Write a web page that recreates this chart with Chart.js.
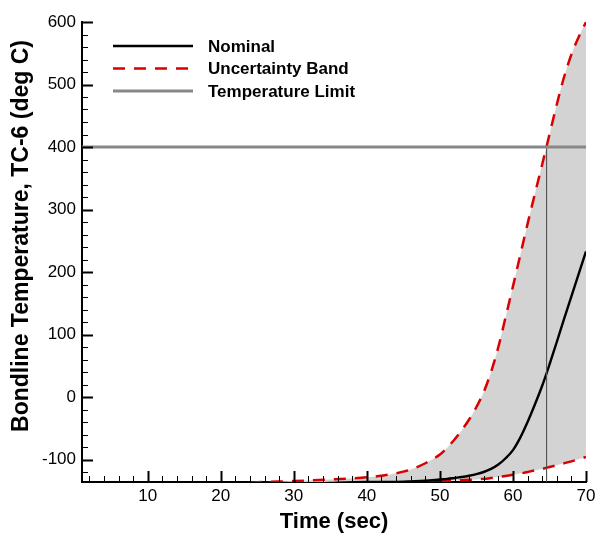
<!DOCTYPE html>
<html><head><meta charset="utf-8">
<script src="https://cdn.jsdelivr.net/npm/chart.js@4/dist/chart.umd.min.js"></script>
<style>html,body{margin:0;padding:0;background:#fff}#wrap{width:596px;height:538px}</style>
</head><body><div id="wrap"><canvas id="c" width="596" height="538"></canvas></div>
<script>
// ---- data ----
const timeSec   = [1, 5, 10, 15, 20, 25, 30, 35, 40, 42, 44, 46, 48, 50, 51, 52, 53, 54, 55, 56, 57, 58, 59, 60, 61, 62, 63, 64, 65, 66, 67, 68, 69, 70];
const nominal   = [-140,-140,-140,-140,-140,-140,-140,-137.5,-136,-136,-135.8,-135,-134,-132,-131,-129.5,-128,-126,-123.5,-120,-115,-108,-98,-85,-65,-40,-12,18,52,88,125,161,197,233];
const upperBand = [-140,-140,-140,-140,-140,-136.5,-134.5,-132,-128.5,-126,-122,-116,-106,-92,-81,-68,-53,-36,-16,8,40,80,128,177,227,277,325,372,420,468,512,548,576,600];
const lowerBand = [-140,-140,-140,-140,-140,-140,-140,-140,-140,-138,-137,-136,-135,-134.5,-134,-133.5,-133,-132.5,-131.8,-131,-129.6,-128,-126.3,-124.5,-122.5,-120,-117.5,-115,-112,-109,-106,-103,-99.5,-96];
const limitTime = [1, 70];
const limitTemp = [400, 400];
const crossTime = [64.6, 64.6];
const crossTemp = [400, -136];
const xTickVals = [10, 20, 30, 40, 50, 60, 70];
const yTickVals = [-100, 0, 100, 200, 300, 400, 500, 600];
const xRange = [1, 70];
const yRange = [-136, 600];
const xTitle = 'Time (sec)';
const yTitle = 'Bondline Temperature, TC-6 (deg C)';

const pts = (xs, ys) => xs.map((x, i) => ({x, y: ys[i]}));
const RED = '#d80000';
const FONT = '"Liberation Sans", Arial, sans-serif';

const insideTicks = {
  id: 'insideTicks',
  afterDatasetsDraw(chart) {
    const {ctx, chartArea: a, scales: {x, y}} = chart;
    ctx.save();
    ctx.strokeStyle = '#000';
    const seg = (x1, y1, x2, y2, w) => { ctx.lineWidth = w; ctx.beginPath(); ctx.moveTo(x1, y1); ctx.lineTo(x2, y2); ctx.stroke(); };
    for (let v = 2; v <= 70; v += 2) {
      const px = Math.round(x.getPixelForValue(v)) + 0.5;
      const major = v % 10 === 0;
      seg(px, a.bottom, px, a.bottom - (major ? 11 : 6), major ? 2 : 1);
    }
    for (let v = -120; v <= 600; v += 20) {
      const py = Math.round(y.getPixelForValue(v)) + 0.5;
      const major = v % 100 === 0;
      seg(a.left, py, a.left + (major ? 11 : 6), py, major ? 2 : 1);
    }
    ctx.restore();
  }
};

const yTitlePlugin = {
  id: 'yTitlePlugin',
  afterDraw(chart) {
    const {ctx} = chart;
    ctx.save();
    ctx.font = 'bold 23px ' + FONT;
    ctx.fillStyle = '#000';
    ctx.textAlign = 'center';
    ctx.textBaseline = 'middle';
    ctx.translate(22, 236);
    ctx.rotate(-Math.PI / 2);
    ctx.fillText(yTitle, 0, 0);
    ctx.restore();
  }
};

const boxLegend = {
  id: 'boxLegend',
  afterDraw(chart) {
    const {ctx} = chart;
    const items = chart.data.datasets.filter(d => d.inLegend).sort((a, b) => a.legendRank - b.legendRank);
    ctx.save();
    ctx.font = 'bold 17px ' + FONT;
    ctx.textBaseline = 'middle';
    ctx.fillStyle = '#000';
    items.forEach((d, i) => {
      const yy = 46 + i * 22.5;
      ctx.strokeStyle = d.borderColor;
      ctx.lineWidth = d.borderWidth;
      ctx.setLineDash(d.borderDash || []);
      ctx.beginPath(); ctx.moveTo(113, yy); ctx.lineTo(193, yy); ctx.stroke();
      ctx.setLineDash([]);
      ctx.fillText(d.label, 208, yy + 1);
    });
    ctx.restore();
  }
};

new Chart(document.getElementById('c'), {
  type: 'line',
  data: {
    datasets: [
      {label: 'Temperature Limit', inLegend: true, legendRank: 2, data: pts(limitTime, limitTemp), borderColor: '#888888', borderWidth: 3, pointRadius: 0, fill: false},
      {label: 'cross', data: pts(crossTime, crossTemp), borderColor: '#555', borderWidth: 1, pointRadius: 0, fill: false},
      {label: 'Nominal', inLegend: true, legendRank: 0, data: pts(timeSec, nominal), borderColor: '#000', borderWidth: 2.4, pointRadius: 0, cubicInterpolationMode: 'monotone', fill: false},
      {label: 'Uncertainty Band', inLegend: true, legendRank: 1, data: pts(timeSec, upperBand), borderColor: RED, borderWidth: 2.5, borderDash: [12, 9], pointRadius: 0, cubicInterpolationMode: 'monotone', fill: {target: 4}, backgroundColor: '#d3d3d3'},
      {label: 'lower', data: pts(timeSec, lowerBand), borderColor: RED, borderWidth: 2.5, borderDash: [12, 9], pointRadius: 0, cubicInterpolationMode: 'monotone', fill: false}
    ]
  },
  options: {
    responsive: false,
    animation: false,
    devicePixelRatio: 1,
    layout: {padding: {left: 0, right: 10, top: 22, bottom: 0}},
    plugins: {legend: {display: false}, tooltip: {enabled: false}, filler: {drawTime: 'beforeDatasetsDraw'}},
    scales: {
      x: {
        type: 'linear', min: xRange[0], max: xRange[1],
        afterBuildTicks: s => { s.ticks = xTickVals.map(v => ({value: v})); },
        afterFit: s => { s.height = 56; s.paddingRight = 0; s.paddingLeft = 0; },
        grid: {display: false, drawTicks: false},
        border: {display: true, color: '#000', width: 2},
        ticks: {color: '#000', padding: 4, font: {family: FONT, size: 17}, maxRotation: 0},
        title: {display: true, text: xTitle, color: '#000', font: {family: FONT, size: 22, weight: 'bold'}, padding: {top: 0, bottom: 3}}
      },
      y: {
        type: 'linear', min: yRange[0], max: yRange[1],
        afterBuildTicks: s => { s.ticks = yTickVals.map(v => ({value: v})); },
        afterFit: s => { s.width = 82; s.paddingTop = 0; s.paddingBottom = 0; },
        grid: {display: false, drawTicks: false},
        border: {display: true, color: '#000', width: 2},
        ticks: {color: '#000', padding: 6, font: {family: FONT, size: 17}},
        title: {display: false}
      }
    }
  },
  plugins: [insideTicks, boxLegend, yTitlePlugin]
});
</script>
</body></html>
